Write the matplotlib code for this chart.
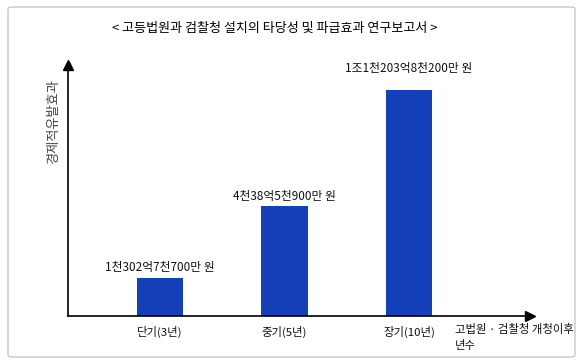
import matplotlib
matplotlib.use('Agg')
import matplotlib.pyplot as plt
from matplotlib.patches import FancyBboxPatch

plt.rcParams['font.family'] = ['Noto Sans CJK KR', 'DejaVu Sans']

# data
categories = ['단기(3년)', '중기(5년)', '장기(10년)']
value_labels = ['1천302억7천700만 원', '4천38억5천900만 원', '1조1천203억8천200만 원']
bar_heights = [38, 110, 226]   # relative bar heights as drawn (schematic)
label_offsets = [3, 2, 11]     # points above bar

W, H = 581, 364
fig = plt.figure(figsize=(W / 100, H / 100), dpi=100)

# rounded frame around the whole chart
frame = FancyBboxPatch((8 / W, 7 / H), 567 / W, 350 / H,
                       boxstyle='round,pad=0,rounding_size=0.006',
                       transform=fig.transFigure, fc='none', ec='#c8c8c8', lw=1)
fig.patches.append(frame)

ax = fig.add_axes([68 / W, (H - 316) / H, (530 - 68) / W, (316 - 65) / H])
x = list(range(len(categories)))
ax.bar(x, bar_heights, width=0.37, color='#1441b9')
ax.set_xlim(-0.739, 2.972)
ax.set_ylim(0, 251)

for xi, h, lab, off in zip(x, bar_heights, value_labels, label_offsets):
    ax.annotate(lab, (xi, h), xytext=(0, off), textcoords='offset points',
                ha='center', va='bottom', fontsize=8.5, color='#111111')

for side in ['top', 'right']:
    ax.spines[side].set_visible(False)
for side in ['left', 'bottom']:
    ax.spines[side].set_linewidth(1.2)
ax.set_yticks([])
ax.set_xticks(x)
ax.set_xticklabels(categories, fontsize=8.2, color='#111111')
ax.tick_params(axis='x', length=0, pad=7)

# arrow heads
ax.plot([0], [1], marker='^', ms=7, color='black', transform=ax.transAxes, clip_on=False)
ax.plot([1], [0], marker='>', ms=7, color='black', transform=ax.transAxes, clip_on=False)

fig.text(54 / W, 1 - 122 / H, '경제적유발효과', rotation=90, ha='center', va='center',
         fontsize=9.5, color='#444444')
fig.text(455 / W, 1 - 324 / H, '고법원 · 검찰청 개청이후\n년수', ha='left', va='top',
         fontsize=8.2, color='#111111', linespacing=1.6)
fig.text(275 / W, 1 - 28 / H, '< 고등법원과 검찰청 설치의 타당성 및 파급효과 연구보고서 >',
         ha='center', va='center', fontsize=9.4, color='#000000')

fig.savefig('out.png', dpi=100)
